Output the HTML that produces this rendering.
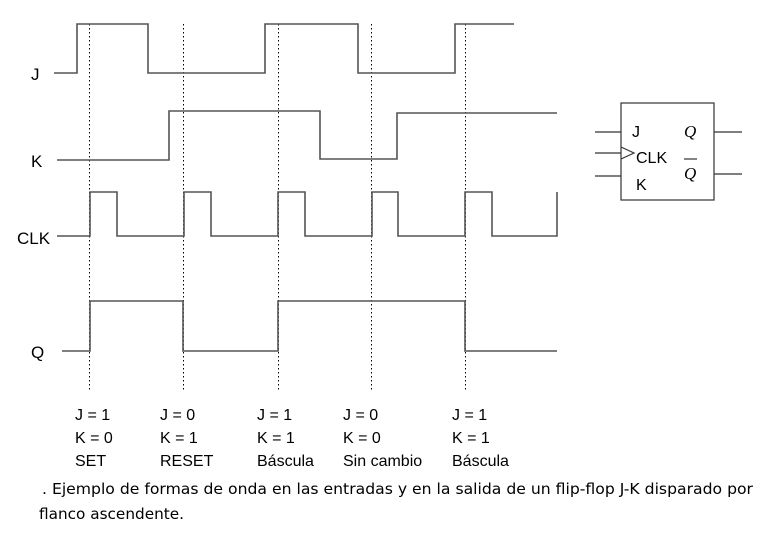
<!DOCTYPE html>
<html><head><meta charset="utf-8"><style>
body{margin:0;background:#fff;width:773px;height:539px;overflow:hidden}
svg{position:absolute;left:0;top:0}
text{font-family:"Liberation Sans",sans-serif;fill:#000}
text.q{font-family:"Liberation Serif",serif;font-style:italic}
text.c{font-family:"DejaVu Sans",sans-serif}
</style></head><body>
<svg width="773" height="539" viewBox="0 0 773 539">
<g stroke="#000" stroke-width="1" stroke-dasharray="1.5,2.5">
<line x1="89.5" y1="24" x2="89.5" y2="392"/>
<line x1="183.5" y1="24" x2="183.5" y2="392"/>
<line x1="278.5" y1="24" x2="278.5" y2="392"/>
<line x1="371.5" y1="24" x2="371.5" y2="392"/>
<line x1="465.5" y1="24" x2="465.5" y2="392"/>
</g>
<g fill="none" stroke="#555" stroke-width="1.6">
<polyline points="54,73 77,73 77,24 148,24 148,73 265,73 265,24 358,24 358,73 455,73 455,24 514,24"/>
<polyline points="57,160 169,160 169,111 320,111 320,159 397,159 397,113 557,113"/>
<polyline points="57,236 90,236 90,192 117,192 117,236 184,236 184,192 211,192 211,236 278,236 278,192 305,192 305,236 372,236 372,192 398,192 398,236 465,236 465,192 492,192 492,236 557,236 557,192"/>
<polyline points="62,351 90,351 90,301 183,301 183,351 278,351 278,301 465,301 465,351 557,351"/>
</g>
<g font-size="17">
<text x="31" y="80">J</text>
<text x="31" y="167">K</text>
<text x="17" y="244">CLK</text>
<text x="31" y="358">Q</text>
</g>
<g fill="none" stroke="#333" stroke-width="1.2">
<rect x="621" y="103" width="93" height="97"/>
<line x1="595" y1="132" x2="621" y2="132"/>
<line x1="595" y1="153" x2="621" y2="153"/>
<line x1="595" y1="176" x2="621" y2="176"/>
<line x1="714" y1="132" x2="742" y2="132"/>
<line x1="714" y1="174" x2="742" y2="174"/>
<polyline points="621,147 634,153 621,159"/>
<line x1="684" y1="159" x2="697" y2="159"/>
</g>
<g font-size="16">
<text x="632" y="137">J</text>
<text x="636" y="163">CLK</text>
<text x="636" y="190">K</text>
<text class="q" x="684" y="137" font-size="17">Q</text>
<text class="q" x="684" y="179" font-size="17">Q</text>
</g>
<g font-size="16">
<text x="75" y="420">J = 1</text><text x="75" y="443">K = 0</text><text x="75" y="466">SET</text>
<text x="160" y="420">J = 0</text><text x="160" y="443">K = 1</text><text x="160" y="466">RESET</text>
<text x="257" y="420">J = 1</text><text x="257" y="443">K = 1</text><text x="257" y="466">Báscula</text>
<text x="343" y="420">J = 0</text><text x="343" y="443">K = 0</text><text x="343" y="466">Sin cambio</text>
<text x="452" y="420">J = 1</text><text x="452" y="443">K = 1</text><text x="452" y="466">Báscula</text>
</g>
<g font-size="15">
<text class="c" x="42" y="494" textLength="711" lengthAdjust="spacingAndGlyphs">. Ejemplo de formas de onda en las entradas y en la salida de un flip-flop J-K disparado por</text>
<text class="c" x="39" y="519" textLength="145" lengthAdjust="spacingAndGlyphs">flanco ascendente.</text>
</g>
</svg>
</body></html>
